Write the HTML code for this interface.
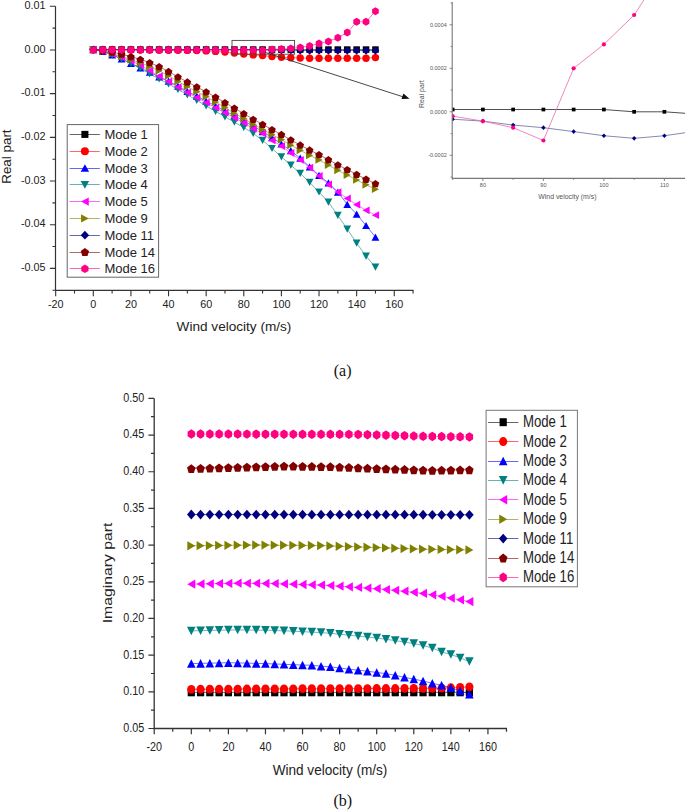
<!DOCTYPE html>
<html><head><meta charset="utf-8"><style>
html,body{margin:0;padding:0;background:#fff;}
body{width:685px;height:810px;overflow:hidden;}
svg{display:block;}
</style></head><body>
<svg width="685" height="810" viewBox="0 0 685 810">
<rect width="685" height="810" fill="#fff"/>
<g id="chartA">
<polyline fill="none" stroke="#000000" stroke-width="0.7" stroke-opacity="0.8" points="93.3,49.6 102.7,49.6 112.11,49.6 121.52,49.6 130.92,49.6 140.32,49.6 149.73,49.6 159.13,49.6 168.54,49.6 177.94,49.6 187.35,49.6 196.75,49.6 206.16,49.6 215.56,49.6 224.97,49.6 234.38,49.6 243.78,49.6 253.19,49.6 262.59,49.6 272,49.6 281.4,49.6 290.81,49.6 300.21,49.6 309.62,49.6 319.02,49.6 328.43,49.6 337.83,49.6 347.24,49.6 356.64,49.6 366.05,49.6 375.45,49.6"/>
<rect x="90.02" y="46.32" width="6.55" height="6.55" fill="#000000"/>
<rect x="99.43" y="46.32" width="6.55" height="6.55" fill="#000000"/>
<rect x="108.83" y="46.32" width="6.55" height="6.55" fill="#000000"/>
<rect x="118.24" y="46.32" width="6.55" height="6.55" fill="#000000"/>
<rect x="127.64" y="46.32" width="6.55" height="6.55" fill="#000000"/>
<rect x="137.05" y="46.32" width="6.55" height="6.55" fill="#000000"/>
<rect x="146.45" y="46.32" width="6.55" height="6.55" fill="#000000"/>
<rect x="155.86" y="46.32" width="6.55" height="6.55" fill="#000000"/>
<rect x="165.26" y="46.32" width="6.55" height="6.55" fill="#000000"/>
<rect x="174.67" y="46.32" width="6.55" height="6.55" fill="#000000"/>
<rect x="184.07" y="46.32" width="6.55" height="6.55" fill="#000000"/>
<rect x="193.48" y="46.32" width="6.55" height="6.55" fill="#000000"/>
<rect x="202.88" y="46.32" width="6.55" height="6.55" fill="#000000"/>
<rect x="212.29" y="46.32" width="6.55" height="6.55" fill="#000000"/>
<rect x="221.69" y="46.32" width="6.55" height="6.55" fill="#000000"/>
<rect x="231.1" y="46.32" width="6.55" height="6.55" fill="#000000"/>
<rect x="240.5" y="46.32" width="6.55" height="6.55" fill="#000000"/>
<rect x="249.91" y="46.32" width="6.55" height="6.55" fill="#000000"/>
<rect x="259.31" y="46.32" width="6.55" height="6.55" fill="#000000"/>
<rect x="268.72" y="46.32" width="6.55" height="6.55" fill="#000000"/>
<rect x="278.12" y="46.32" width="6.55" height="6.55" fill="#000000"/>
<rect x="287.53" y="46.32" width="6.55" height="6.55" fill="#000000"/>
<rect x="296.93" y="46.32" width="6.55" height="6.55" fill="#000000"/>
<rect x="306.34" y="46.32" width="6.55" height="6.55" fill="#000000"/>
<rect x="315.74" y="46.32" width="6.55" height="6.55" fill="#000000"/>
<rect x="325.15" y="46.32" width="6.55" height="6.55" fill="#000000"/>
<rect x="334.55" y="46.32" width="6.55" height="6.55" fill="#000000"/>
<rect x="343.96" y="46.32" width="6.55" height="6.55" fill="#000000"/>
<rect x="353.36" y="46.32" width="6.55" height="6.55" fill="#000000"/>
<rect x="362.77" y="46.32" width="6.55" height="6.55" fill="#000000"/>
<rect x="372.17" y="46.32" width="6.55" height="6.55" fill="#000000"/>
<polyline fill="none" stroke="#ff0000" stroke-width="0.7" stroke-opacity="0.8" points="93.3,49.6 102.7,49.68 112.11,49.76 121.52,49.84 130.92,49.92 140.32,50 149.73,50.08 159.13,50.16 168.54,50.24 177.94,50.32 187.35,50.4 196.75,50.6 206.16,50.9 215.56,51.4 224.97,52.1 234.38,53 243.78,54 253.19,54.9 262.59,55.6 272,56.6 281.4,57.3 290.81,57.7 300.21,58 309.62,58.2 319.02,58.2 328.43,58.2 337.83,58.2 347.24,58.2 356.64,58.2 366.05,58.2 375.45,57.6"/>
<ellipse cx="93.3" cy="49.6" rx="3.7" ry="3.7" fill="#ff0000"/>
<ellipse cx="102.7" cy="49.68" rx="3.7" ry="3.7" fill="#ff0000"/>
<ellipse cx="112.11" cy="49.76" rx="3.7" ry="3.7" fill="#ff0000"/>
<ellipse cx="121.52" cy="49.84" rx="3.7" ry="3.7" fill="#ff0000"/>
<ellipse cx="130.92" cy="49.92" rx="3.7" ry="3.7" fill="#ff0000"/>
<ellipse cx="140.32" cy="50" rx="3.7" ry="3.7" fill="#ff0000"/>
<ellipse cx="149.73" cy="50.08" rx="3.7" ry="3.7" fill="#ff0000"/>
<ellipse cx="159.13" cy="50.16" rx="3.7" ry="3.7" fill="#ff0000"/>
<ellipse cx="168.54" cy="50.24" rx="3.7" ry="3.7" fill="#ff0000"/>
<ellipse cx="177.94" cy="50.32" rx="3.7" ry="3.7" fill="#ff0000"/>
<ellipse cx="187.35" cy="50.4" rx="3.7" ry="3.7" fill="#ff0000"/>
<ellipse cx="196.75" cy="50.6" rx="3.7" ry="3.7" fill="#ff0000"/>
<ellipse cx="206.16" cy="50.9" rx="3.7" ry="3.7" fill="#ff0000"/>
<ellipse cx="215.56" cy="51.4" rx="3.7" ry="3.7" fill="#ff0000"/>
<ellipse cx="224.97" cy="52.1" rx="3.7" ry="3.7" fill="#ff0000"/>
<ellipse cx="234.38" cy="53" rx="3.7" ry="3.7" fill="#ff0000"/>
<ellipse cx="243.78" cy="54" rx="3.7" ry="3.7" fill="#ff0000"/>
<ellipse cx="253.19" cy="54.9" rx="3.7" ry="3.7" fill="#ff0000"/>
<ellipse cx="262.59" cy="55.6" rx="3.7" ry="3.7" fill="#ff0000"/>
<ellipse cx="272" cy="56.6" rx="3.7" ry="3.7" fill="#ff0000"/>
<ellipse cx="281.4" cy="57.3" rx="3.7" ry="3.7" fill="#ff0000"/>
<ellipse cx="290.81" cy="57.7" rx="3.7" ry="3.7" fill="#ff0000"/>
<ellipse cx="300.21" cy="58" rx="3.7" ry="3.7" fill="#ff0000"/>
<ellipse cx="309.62" cy="58.2" rx="3.7" ry="3.7" fill="#ff0000"/>
<ellipse cx="319.02" cy="58.2" rx="3.7" ry="3.7" fill="#ff0000"/>
<ellipse cx="328.43" cy="58.2" rx="3.7" ry="3.7" fill="#ff0000"/>
<ellipse cx="337.83" cy="58.2" rx="3.7" ry="3.7" fill="#ff0000"/>
<ellipse cx="347.24" cy="58.2" rx="3.7" ry="3.7" fill="#ff0000"/>
<ellipse cx="356.64" cy="58.2" rx="3.7" ry="3.7" fill="#ff0000"/>
<ellipse cx="366.05" cy="58.2" rx="3.7" ry="3.7" fill="#ff0000"/>
<ellipse cx="375.45" cy="57.6" rx="3.7" ry="3.7" fill="#ff0000"/>
<polyline fill="none" stroke="#0000ff" stroke-width="0.7" stroke-opacity="0.8" points="93.3,49.6 102.7,51.4 112.11,54.8 121.52,58.9 130.92,63.3 140.32,68 149.73,72.1 159.13,77 168.54,81.2 177.94,86.2 187.35,91.4 196.75,96.2 206.16,101.1 215.56,106 224.97,110.9 234.38,115.8 243.78,120.9 253.19,126 262.59,131.6 272,137.6 281.4,143.9 290.81,150.7 300.21,158.2 309.62,166.8 319.02,175.3 328.43,182.9 337.83,192.1 347.24,204.3 356.64,214.2 366.05,225.5 375.45,237.1"/>
<polygon points="93.3,46.01 97.2,53.19 89.4,53.19" fill="#0000ff"/>
<polygon points="102.7,47.81 106.61,54.99 98.8,54.99" fill="#0000ff"/>
<polygon points="112.11,51.21 116.01,58.39 108.21,58.39" fill="#0000ff"/>
<polygon points="121.52,55.31 125.42,62.49 117.61,62.49" fill="#0000ff"/>
<polygon points="130.92,59.71 134.82,66.89 127.02,66.89" fill="#0000ff"/>
<polygon points="140.32,64.41 144.22,71.59 136.42,71.59" fill="#0000ff"/>
<polygon points="149.73,68.51 153.63,75.69 145.83,75.69" fill="#0000ff"/>
<polygon points="159.13,73.41 163.03,80.59 155.23,80.59" fill="#0000ff"/>
<polygon points="168.54,77.61 172.44,84.79 164.64,84.79" fill="#0000ff"/>
<polygon points="177.94,82.61 181.84,89.79 174.04,89.79" fill="#0000ff"/>
<polygon points="187.35,87.81 191.25,94.99 183.45,94.99" fill="#0000ff"/>
<polygon points="196.75,92.61 200.66,99.79 192.85,99.79" fill="#0000ff"/>
<polygon points="206.16,97.51 210.06,104.69 202.26,104.69" fill="#0000ff"/>
<polygon points="215.56,102.41 219.47,109.59 211.66,109.59" fill="#0000ff"/>
<polygon points="224.97,107.31 228.87,114.49 221.07,114.49" fill="#0000ff"/>
<polygon points="234.38,112.21 238.28,119.39 230.47,119.39" fill="#0000ff"/>
<polygon points="243.78,117.31 247.68,124.49 239.88,124.49" fill="#0000ff"/>
<polygon points="253.19,122.41 257.08,129.59 249.28,129.59" fill="#0000ff"/>
<polygon points="262.59,128.01 266.49,135.19 258.69,135.19" fill="#0000ff"/>
<polygon points="272,134.01 275.89,141.19 268.1,141.19" fill="#0000ff"/>
<polygon points="281.4,140.31 285.3,147.49 277.5,147.49" fill="#0000ff"/>
<polygon points="290.81,147.11 294.7,154.29 286.91,154.29" fill="#0000ff"/>
<polygon points="300.21,154.61 304.11,161.79 296.31,161.79" fill="#0000ff"/>
<polygon points="309.62,163.21 313.51,170.39 305.72,170.39" fill="#0000ff"/>
<polygon points="319.02,171.71 322.92,178.89 315.12,178.89" fill="#0000ff"/>
<polygon points="328.43,179.31 332.32,186.49 324.53,186.49" fill="#0000ff"/>
<polygon points="337.83,188.51 341.73,195.69 333.93,195.69" fill="#0000ff"/>
<polygon points="347.24,200.71 351.13,207.89 343.34,207.89" fill="#0000ff"/>
<polygon points="356.64,210.61 360.54,217.79 352.74,217.79" fill="#0000ff"/>
<polygon points="366.05,221.91 369.94,229.09 362.15,229.09" fill="#0000ff"/>
<polygon points="375.45,233.51 379.35,240.69 371.55,240.69" fill="#0000ff"/>
<polyline fill="none" stroke="#008080" stroke-width="0.7" stroke-opacity="0.8" points="93.3,49.6 102.7,51.4 112.11,54.8 121.52,58.9 130.92,63.4 140.32,68.5 149.73,73.9 159.13,78.9 168.54,84 177.94,89.5 187.35,94.9 196.75,100.3 206.16,105.9 215.56,111.3 224.97,116.8 234.38,122.2 243.78,127.5 253.19,133.4 262.59,140.4 272,148.5 281.4,156.8 290.81,165.1 300.21,173.4 309.62,182.4 319.02,192 328.43,202.2 337.83,215.4 347.24,229.1 356.64,243.1 366.05,256.1 375.45,267.1"/>
<polygon points="93.3,53.19 97.2,46.01 89.4,46.01" fill="#008080"/>
<polygon points="102.7,54.99 106.61,47.81 98.8,47.81" fill="#008080"/>
<polygon points="112.11,58.39 116.01,51.21 108.21,51.21" fill="#008080"/>
<polygon points="121.52,62.49 125.42,55.31 117.61,55.31" fill="#008080"/>
<polygon points="130.92,66.99 134.82,59.81 127.02,59.81" fill="#008080"/>
<polygon points="140.32,72.09 144.22,64.91 136.42,64.91" fill="#008080"/>
<polygon points="149.73,77.49 153.63,70.31 145.83,70.31" fill="#008080"/>
<polygon points="159.13,82.49 163.03,75.31 155.23,75.31" fill="#008080"/>
<polygon points="168.54,87.59 172.44,80.41 164.64,80.41" fill="#008080"/>
<polygon points="177.94,93.09 181.84,85.91 174.04,85.91" fill="#008080"/>
<polygon points="187.35,98.49 191.25,91.31 183.45,91.31" fill="#008080"/>
<polygon points="196.75,103.89 200.66,96.71 192.85,96.71" fill="#008080"/>
<polygon points="206.16,109.49 210.06,102.31 202.26,102.31" fill="#008080"/>
<polygon points="215.56,114.89 219.47,107.71 211.66,107.71" fill="#008080"/>
<polygon points="224.97,120.39 228.87,113.21 221.07,113.21" fill="#008080"/>
<polygon points="234.38,125.79 238.28,118.61 230.47,118.61" fill="#008080"/>
<polygon points="243.78,131.09 247.68,123.91 239.88,123.91" fill="#008080"/>
<polygon points="253.19,136.99 257.08,129.81 249.28,129.81" fill="#008080"/>
<polygon points="262.59,143.99 266.49,136.81 258.69,136.81" fill="#008080"/>
<polygon points="272,152.09 275.89,144.91 268.1,144.91" fill="#008080"/>
<polygon points="281.4,160.39 285.3,153.21 277.5,153.21" fill="#008080"/>
<polygon points="290.81,168.69 294.7,161.51 286.91,161.51" fill="#008080"/>
<polygon points="300.21,176.99 304.11,169.81 296.31,169.81" fill="#008080"/>
<polygon points="309.62,185.99 313.51,178.81 305.72,178.81" fill="#008080"/>
<polygon points="319.02,195.59 322.92,188.41 315.12,188.41" fill="#008080"/>
<polygon points="328.43,205.79 332.32,198.61 324.53,198.61" fill="#008080"/>
<polygon points="337.83,218.99 341.73,211.81 333.93,211.81" fill="#008080"/>
<polygon points="347.24,232.69 351.13,225.51 343.34,225.51" fill="#008080"/>
<polygon points="356.64,246.69 360.54,239.51 352.74,239.51" fill="#008080"/>
<polygon points="366.05,259.69 369.94,252.51 362.15,252.51" fill="#008080"/>
<polygon points="375.45,270.69 379.35,263.51 371.55,263.51" fill="#008080"/>
<polyline fill="none" stroke="#ff00ff" stroke-width="0.7" stroke-opacity="0.8" points="93.3,49.6 102.7,51.1 112.11,54 121.52,57.4 130.92,60.8 140.32,65.2 149.73,70.6 159.13,76.2 168.54,81.7 177.94,87.2 187.35,92.6 196.75,97.6 206.16,102.6 215.56,107.7 224.97,112.7 234.38,117.7 243.78,122.8 253.19,128.7 262.59,133.4 272,140.4 281.4,146.1 290.81,153 300.21,159.9 309.62,167.6 319.02,176 328.43,184.5 337.83,192.1 347.24,198.4 356.64,204.7 366.05,210.3 375.45,215.2"/>
<polygon points="89.71,49.6 96.89,45.7 96.89,53.5" fill="#ff00ff"/>
<polygon points="99.12,51.1 106.29,47.2 106.29,55" fill="#ff00ff"/>
<polygon points="108.52,54 115.7,50.1 115.7,57.9" fill="#ff00ff"/>
<polygon points="117.93,57.4 125.1,53.5 125.1,61.3" fill="#ff00ff"/>
<polygon points="127.33,60.8 134.51,56.9 134.51,64.7" fill="#ff00ff"/>
<polygon points="136.74,65.2 143.91,61.3 143.91,69.1" fill="#ff00ff"/>
<polygon points="146.14,70.6 153.32,66.7 153.32,74.5" fill="#ff00ff"/>
<polygon points="155.55,76.2 162.72,72.3 162.72,80.1" fill="#ff00ff"/>
<polygon points="164.95,81.7 172.13,77.8 172.13,85.6" fill="#ff00ff"/>
<polygon points="174.36,87.2 181.53,83.3 181.53,91.1" fill="#ff00ff"/>
<polygon points="183.76,92.6 190.94,88.7 190.94,96.5" fill="#ff00ff"/>
<polygon points="193.17,97.6 200.34,93.7 200.34,101.5" fill="#ff00ff"/>
<polygon points="202.57,102.6 209.75,98.7 209.75,106.5" fill="#ff00ff"/>
<polygon points="211.98,107.7 219.15,103.8 219.15,111.6" fill="#ff00ff"/>
<polygon points="221.38,112.7 228.56,108.8 228.56,116.6" fill="#ff00ff"/>
<polygon points="230.79,117.7 237.96,113.8 237.96,121.6" fill="#ff00ff"/>
<polygon points="240.19,122.8 247.37,118.9 247.37,126.7" fill="#ff00ff"/>
<polygon points="249.6,128.7 256.77,124.8 256.77,132.6" fill="#ff00ff"/>
<polygon points="259,133.4 266.18,129.5 266.18,137.3" fill="#ff00ff"/>
<polygon points="268.41,140.4 275.58,136.5 275.58,144.3" fill="#ff00ff"/>
<polygon points="277.81,146.1 284.99,142.2 284.99,150" fill="#ff00ff"/>
<polygon points="287.22,153 294.39,149.1 294.39,156.9" fill="#ff00ff"/>
<polygon points="296.62,159.9 303.8,156 303.8,163.8" fill="#ff00ff"/>
<polygon points="306.03,167.6 313.2,163.7 313.2,171.5" fill="#ff00ff"/>
<polygon points="315.43,176 322.61,172.1 322.61,179.9" fill="#ff00ff"/>
<polygon points="324.84,184.5 332.01,180.6 332.01,188.4" fill="#ff00ff"/>
<polygon points="334.24,192.1 341.42,188.2 341.42,196" fill="#ff00ff"/>
<polygon points="343.65,198.4 350.82,194.5 350.82,202.3" fill="#ff00ff"/>
<polygon points="353.05,204.7 360.23,200.8 360.23,208.6" fill="#ff00ff"/>
<polygon points="362.46,210.3 369.63,206.4 369.63,214.2" fill="#ff00ff"/>
<polygon points="371.86,215.2 379.04,211.3 379.04,219.1" fill="#ff00ff"/>
<polyline fill="none" stroke="#808000" stroke-width="0.7" stroke-opacity="0.8" points="93.3,49.6 102.7,51.35 112.11,53.6 121.52,56.35 130.92,59.6 140.32,62.9 149.73,66.6 159.13,70.78 168.54,75.85 177.94,81.43 187.35,86.7 196.75,91.65 206.16,96.7 215.56,102.05 224.97,107.5 234.38,113.15 243.78,118.6 253.19,124.35 262.59,129.4 272,134.75 281.4,139.7 290.81,145.14 300.21,150.28 309.62,155.32 319.02,159.96 328.43,165.1 337.83,170.34 347.24,175.08 356.64,179.92 366.05,184.76 375.45,189.2"/>
<polygon points="96.89,49.6 89.71,45.7 89.71,53.5" fill="#808000"/>
<polygon points="106.29,51.35 99.12,47.45 99.12,55.25" fill="#808000"/>
<polygon points="115.7,53.6 108.52,49.7 108.52,57.5" fill="#808000"/>
<polygon points="125.1,56.35 117.93,52.45 117.93,60.25" fill="#808000"/>
<polygon points="134.51,59.6 127.33,55.7 127.33,63.5" fill="#808000"/>
<polygon points="143.91,62.9 136.74,59 136.74,66.8" fill="#808000"/>
<polygon points="153.32,66.6 146.14,62.7 146.14,70.5" fill="#808000"/>
<polygon points="162.72,70.78 155.55,66.88 155.55,74.68" fill="#808000"/>
<polygon points="172.13,75.85 164.95,71.95 164.95,79.75" fill="#808000"/>
<polygon points="181.53,81.43 174.36,77.53 174.36,85.33" fill="#808000"/>
<polygon points="190.94,86.7 183.76,82.8 183.76,90.6" fill="#808000"/>
<polygon points="200.34,91.65 193.17,87.75 193.17,95.55" fill="#808000"/>
<polygon points="209.75,96.7 202.57,92.8 202.57,100.6" fill="#808000"/>
<polygon points="219.15,102.05 211.98,98.15 211.98,105.95" fill="#808000"/>
<polygon points="228.56,107.5 221.38,103.6 221.38,111.4" fill="#808000"/>
<polygon points="237.96,113.15 230.79,109.25 230.79,117.05" fill="#808000"/>
<polygon points="247.37,118.6 240.19,114.7 240.19,122.5" fill="#808000"/>
<polygon points="256.77,124.35 249.6,120.45 249.6,128.25" fill="#808000"/>
<polygon points="266.18,129.4 259,125.5 259,133.3" fill="#808000"/>
<polygon points="275.58,134.75 268.41,130.85 268.41,138.65" fill="#808000"/>
<polygon points="284.99,139.7 277.81,135.8 277.81,143.6" fill="#808000"/>
<polygon points="294.39,145.14 287.22,141.24 287.22,149.04" fill="#808000"/>
<polygon points="303.8,150.28 296.62,146.38 296.62,154.18" fill="#808000"/>
<polygon points="313.2,155.32 306.03,151.42 306.03,159.22" fill="#808000"/>
<polygon points="322.61,159.96 315.43,156.06 315.43,163.86" fill="#808000"/>
<polygon points="332.01,165.1 324.84,161.2 324.84,169" fill="#808000"/>
<polygon points="341.42,170.34 334.24,166.44 334.24,174.24" fill="#808000"/>
<polygon points="350.82,175.08 343.65,171.18 343.65,178.98" fill="#808000"/>
<polygon points="360.23,179.92 353.05,176.02 353.05,183.82" fill="#808000"/>
<polygon points="369.63,184.76 362.46,180.86 362.46,188.66" fill="#808000"/>
<polygon points="379.04,189.2 371.86,185.3 371.86,193.1" fill="#808000"/>
<polyline fill="none" stroke="#000080" stroke-width="0.7" stroke-opacity="0.8" points="93.3,49.6 102.7,49.61 112.11,49.62 121.52,49.63 130.92,49.64 140.32,49.65 149.73,49.66 159.13,49.67 168.54,49.68 177.94,49.69 187.35,49.7 196.75,49.71 206.16,49.72 215.56,49.73 224.97,49.74 234.38,49.75 243.78,49.81 253.19,49.86 262.59,49.92 272,50.01 281.4,50.1 290.81,50.15 300.21,50.4 309.62,50.6 319.02,50.6 328.43,50.6 337.83,50.6 347.24,50.6 356.64,50.6 366.05,50.6 375.45,50.6"/>
<polygon points="93.3,45.51 97.2,49.6 93.3,53.7 89.4,49.6" fill="#000080"/>
<polygon points="102.7,45.52 106.61,49.61 102.7,53.7 98.8,49.61" fill="#000080"/>
<polygon points="112.11,45.53 116.01,49.62 112.11,53.72 108.21,49.62" fill="#000080"/>
<polygon points="121.52,45.54 125.42,49.63 121.52,53.73 117.61,49.63" fill="#000080"/>
<polygon points="130.92,45.55 134.82,49.64 130.92,53.73 127.02,49.64" fill="#000080"/>
<polygon points="140.32,45.55 144.22,49.65 140.32,53.74 136.42,49.65" fill="#000080"/>
<polygon points="149.73,45.57 153.63,49.66 149.73,53.76 145.83,49.66" fill="#000080"/>
<polygon points="159.13,45.58 163.03,49.67 159.13,53.77 155.23,49.67" fill="#000080"/>
<polygon points="168.54,45.59 172.44,49.68 168.54,53.77 164.64,49.68" fill="#000080"/>
<polygon points="177.94,45.6 181.84,49.69 177.94,53.79 174.04,49.69" fill="#000080"/>
<polygon points="187.35,45.61 191.25,49.7 187.35,53.8 183.45,49.7" fill="#000080"/>
<polygon points="196.75,45.62 200.66,49.71 196.75,53.8 192.85,49.71" fill="#000080"/>
<polygon points="206.16,45.62 210.06,49.72 206.16,53.81 202.26,49.72" fill="#000080"/>
<polygon points="215.56,45.64 219.47,49.73 215.56,53.83 211.66,49.73" fill="#000080"/>
<polygon points="224.97,45.65 228.87,49.74 224.97,53.84 221.07,49.74" fill="#000080"/>
<polygon points="234.38,45.66 238.28,49.75 234.38,53.84 230.47,49.75" fill="#000080"/>
<polygon points="243.78,45.71 247.68,49.81 243.78,53.9 239.88,49.81" fill="#000080"/>
<polygon points="253.19,45.77 257.08,49.86 253.19,53.96 249.28,49.86" fill="#000080"/>
<polygon points="262.59,45.83 266.49,49.92 262.59,54.02 258.69,49.92" fill="#000080"/>
<polygon points="272,45.91 275.89,50.01 272,54.1 268.1,50.01" fill="#000080"/>
<polygon points="281.4,46.01 285.3,50.1 281.4,54.2 277.5,50.1" fill="#000080"/>
<polygon points="290.81,46.05 294.7,50.15 290.81,54.24 286.91,50.15" fill="#000080"/>
<polygon points="300.21,46.3 304.11,50.4 300.21,54.49 296.31,50.4" fill="#000080"/>
<polygon points="309.62,46.51 313.51,50.6 309.62,54.7 305.72,50.6" fill="#000080"/>
<polygon points="319.02,46.51 322.92,50.6 319.02,54.7 315.12,50.6" fill="#000080"/>
<polygon points="328.43,46.51 332.32,50.6 328.43,54.7 324.53,50.6" fill="#000080"/>
<polygon points="337.83,46.51 341.73,50.6 337.83,54.7 333.93,50.6" fill="#000080"/>
<polygon points="347.24,46.51 351.13,50.6 347.24,54.7 343.34,50.6" fill="#000080"/>
<polygon points="356.64,46.51 360.54,50.6 356.64,54.7 352.74,50.6" fill="#000080"/>
<polygon points="366.05,46.51 369.94,50.6 366.05,54.7 362.15,50.6" fill="#000080"/>
<polygon points="375.45,46.51 379.35,50.6 375.45,54.7 371.55,50.6" fill="#000080"/>
<polyline fill="none" stroke="#800000" stroke-width="0.7" stroke-opacity="0.8" points="93.3,49.6 102.7,50.6 112.11,52.1 121.52,54.1 130.92,56.6 140.32,59.4 149.73,62.6 159.13,66.6 168.54,71.5 177.94,76.9 187.35,82 196.75,86.9 206.16,91.9 215.56,97.2 224.97,102.6 234.38,108.2 243.78,113.6 253.19,119.3 262.59,124.3 272,129.6 281.4,134.5 290.81,139.9 300.21,145 309.62,150 319.02,154.6 328.43,159.7 337.83,164.9 347.24,169.6 356.64,174.4 366.05,179.2 375.45,183.6"/>
<polygon points="93.3,45.95 97.16,48.75 95.68,53.29 90.92,53.29 89.44,48.75" fill="#800000"/>
<polygon points="102.7,46.95 106.56,49.75 105.09,54.29 100.32,54.29 98.85,49.75" fill="#800000"/>
<polygon points="112.11,48.45 115.97,51.25 114.49,55.79 109.73,55.79 108.25,51.25" fill="#800000"/>
<polygon points="121.52,50.45 125.37,53.25 123.9,57.79 119.13,57.79 117.66,53.25" fill="#800000"/>
<polygon points="130.92,52.95 134.78,55.75 133.3,60.29 128.54,60.29 127.06,55.75" fill="#800000"/>
<polygon points="140.32,55.75 144.18,58.55 142.71,63.09 137.94,63.09 136.47,58.55" fill="#800000"/>
<polygon points="149.73,58.95 153.59,61.75 152.11,66.29 147.35,66.29 145.87,61.75" fill="#800000"/>
<polygon points="159.13,62.95 162.99,65.75 161.52,70.29 156.75,70.29 155.28,65.75" fill="#800000"/>
<polygon points="168.54,67.85 172.4,70.65 170.92,75.19 166.16,75.19 164.68,70.65" fill="#800000"/>
<polygon points="177.94,73.25 181.8,76.05 180.33,80.59 175.56,80.59 174.09,76.05" fill="#800000"/>
<polygon points="187.35,78.35 191.21,81.15 189.73,85.69 184.97,85.69 183.49,81.15" fill="#800000"/>
<polygon points="196.75,83.25 200.61,86.05 199.14,90.59 194.37,90.59 192.9,86.05" fill="#800000"/>
<polygon points="206.16,88.25 210.02,91.05 208.54,95.59 203.78,95.59 202.3,91.05" fill="#800000"/>
<polygon points="215.56,93.55 219.42,96.35 217.95,100.89 213.18,100.89 211.71,96.35" fill="#800000"/>
<polygon points="224.97,98.95 228.83,101.75 227.35,106.29 222.59,106.29 221.11,101.75" fill="#800000"/>
<polygon points="234.38,104.55 238.23,107.35 236.76,111.89 231.99,111.89 230.52,107.35" fill="#800000"/>
<polygon points="243.78,109.95 247.64,112.75 246.16,117.29 241.4,117.29 239.92,112.75" fill="#800000"/>
<polygon points="253.19,115.65 257.04,118.45 255.57,122.99 250.8,122.99 249.33,118.45" fill="#800000"/>
<polygon points="262.59,120.65 266.45,123.45 264.97,127.99 260.21,127.99 258.73,123.45" fill="#800000"/>
<polygon points="272,125.95 275.85,128.75 274.38,133.29 269.61,133.29 268.14,128.75" fill="#800000"/>
<polygon points="281.4,130.85 285.26,133.65 283.78,138.19 279.02,138.19 277.54,133.65" fill="#800000"/>
<polygon points="290.81,136.25 294.66,139.05 293.19,143.59 288.42,143.59 286.95,139.05" fill="#800000"/>
<polygon points="300.21,141.35 304.07,144.15 302.59,148.69 297.83,148.69 296.35,144.15" fill="#800000"/>
<polygon points="309.62,146.35 313.47,149.15 312,153.69 307.23,153.69 305.76,149.15" fill="#800000"/>
<polygon points="319.02,150.95 322.88,153.75 321.4,158.29 316.64,158.29 315.16,153.75" fill="#800000"/>
<polygon points="328.43,156.05 332.28,158.85 330.81,163.39 326.04,163.39 324.57,158.85" fill="#800000"/>
<polygon points="337.83,161.25 341.69,164.05 340.21,168.59 335.45,168.59 333.97,164.05" fill="#800000"/>
<polygon points="347.24,165.95 351.09,168.75 349.62,173.29 344.85,173.29 343.38,168.75" fill="#800000"/>
<polygon points="356.64,170.75 360.5,173.55 359.02,178.09 354.26,178.09 352.78,173.55" fill="#800000"/>
<polygon points="366.05,175.55 369.9,178.35 368.43,182.89 363.66,182.89 362.19,178.35" fill="#800000"/>
<polygon points="375.45,179.95 379.31,182.75 377.83,187.29 373.07,187.29 371.59,182.75" fill="#800000"/>
<polyline fill="none" stroke="#ff0080" stroke-width="0.7" stroke-opacity="0.8" points="93.3,49.9 102.7,49.9 112.11,49.91 121.52,49.91 130.92,49.91 140.32,49.91 149.73,49.92 159.13,49.92 168.54,49.92 177.94,49.93 187.35,49.93 196.75,49.93 206.16,49.94 215.56,49.94 224.97,49.94 234.38,49.94 243.78,49.95 253.19,49.95 262.59,50.2 272,49.4 281.4,49 290.81,48.5 300.21,47.4 309.62,45.9 319.02,43.6 328.43,41.4 337.83,37.8 347.24,32.5 356.64,21.8 366.05,21.8 375.45,11.2"/>
<polygon points="93.3,45.92 96.64,47.91 96.64,51.89 93.3,53.88 89.96,51.89 89.96,47.91" fill="#ff0080"/>
<polygon points="102.7,45.92 106.05,47.91 106.05,51.89 102.7,53.88 99.36,51.89 99.36,47.91" fill="#ff0080"/>
<polygon points="112.11,45.93 115.45,47.92 115.45,51.89 112.11,53.88 108.77,51.89 108.77,47.92" fill="#ff0080"/>
<polygon points="121.52,45.93 124.86,47.92 124.86,51.9 121.52,53.89 118.17,51.9 118.17,47.92" fill="#ff0080"/>
<polygon points="130.92,45.93 134.26,47.92 134.26,51.9 130.92,53.89 127.58,51.9 127.58,47.92" fill="#ff0080"/>
<polygon points="140.32,45.94 143.67,47.93 143.67,51.9 140.32,53.89 136.98,51.9 136.98,47.93" fill="#ff0080"/>
<polygon points="149.73,45.94 153.07,47.93 153.07,51.91 149.73,53.9 146.39,51.91 146.39,47.93" fill="#ff0080"/>
<polygon points="159.13,45.94 162.48,47.93 162.48,51.91 159.13,53.9 155.79,51.91 155.79,47.93" fill="#ff0080"/>
<polygon points="168.54,45.95 171.88,47.93 171.88,51.91 168.54,53.9 165.2,51.91 165.2,47.93" fill="#ff0080"/>
<polygon points="177.94,45.95 181.29,47.94 181.29,51.92 177.94,53.9 174.6,51.92 174.6,47.94" fill="#ff0080"/>
<polygon points="187.35,45.95 190.69,47.94 190.69,51.92 187.35,53.91 184.01,51.92 184.01,47.94" fill="#ff0080"/>
<polygon points="196.75,45.95 200.1,47.94 200.1,51.92 196.75,53.91 193.41,51.92 193.41,47.94" fill="#ff0080"/>
<polygon points="206.16,45.96 209.5,47.95 209.5,51.92 206.16,53.91 202.82,51.92 202.82,47.95" fill="#ff0080"/>
<polygon points="215.56,45.96 218.91,47.95 218.91,51.93 215.56,53.92 212.22,51.93 212.22,47.95" fill="#ff0080"/>
<polygon points="224.97,45.96 228.31,47.95 228.31,51.93 224.97,53.92 221.63,51.93 221.63,47.95" fill="#ff0080"/>
<polygon points="234.38,45.97 237.72,47.96 237.72,51.93 234.38,53.92 231.03,51.93 231.03,47.96" fill="#ff0080"/>
<polygon points="243.78,45.97 247.12,47.96 247.12,51.94 243.78,53.93 240.44,51.94 240.44,47.96" fill="#ff0080"/>
<polygon points="253.19,45.97 256.53,47.96 256.53,51.94 253.19,53.93 249.84,51.94 249.84,47.96" fill="#ff0080"/>
<polygon points="262.59,46.22 265.93,48.21 265.93,52.19 262.59,54.18 259.25,52.19 259.25,48.21" fill="#ff0080"/>
<polygon points="272,45.42 275.34,47.41 275.34,51.39 272,53.38 268.65,51.39 268.65,47.41" fill="#ff0080"/>
<polygon points="281.4,45.02 284.74,47.01 284.74,50.99 281.4,52.98 278.06,50.99 278.06,47.01" fill="#ff0080"/>
<polygon points="290.81,44.52 294.15,46.51 294.15,50.49 290.81,52.48 287.46,50.49 287.46,46.51" fill="#ff0080"/>
<polygon points="300.21,43.42 303.55,45.41 303.55,49.39 300.21,51.38 296.87,49.39 296.87,45.41" fill="#ff0080"/>
<polygon points="309.62,41.92 312.96,43.91 312.96,47.89 309.62,49.88 306.27,47.89 306.27,43.91" fill="#ff0080"/>
<polygon points="319.02,39.62 322.36,41.61 322.36,45.59 319.02,47.58 315.68,45.59 315.68,41.61" fill="#ff0080"/>
<polygon points="328.43,37.42 331.77,39.41 331.77,43.39 328.43,45.38 325.08,43.39 325.08,39.41" fill="#ff0080"/>
<polygon points="337.83,33.82 341.17,35.81 341.17,39.79 337.83,41.78 334.49,39.79 334.49,35.81" fill="#ff0080"/>
<polygon points="347.24,28.52 350.58,30.51 350.58,34.49 347.24,36.48 343.89,34.49 343.89,30.51" fill="#ff0080"/>
<polygon points="356.64,17.82 359.98,19.81 359.98,23.79 356.64,25.78 353.3,23.79 353.3,19.81" fill="#ff0080"/>
<polygon points="366.05,17.82 369.39,19.81 369.39,23.79 366.05,25.78 362.7,23.79 362.7,19.81" fill="#ff0080"/>
<polygon points="375.45,7.22 378.79,9.21 378.79,13.19 375.45,15.18 372.11,13.19 372.11,9.21" fill="#ff0080"/>
<path d="M55.5 6.3 V290.4 H413.6" fill="none" stroke="#333333" stroke-width="1.2"/>
<path d="M49.9 6.3H55.5M52.5 28.14H55.5M49.9 49.98H55.5M52.5 71.82H55.5M49.9 93.66H55.5M52.5 115.5H55.5M49.9 137.34H55.5M52.5 159.18H55.5M49.9 181.02H55.5M52.5 202.86H55.5M49.9 224.7H55.5M52.5 246.54H55.5M49.9 268.38H55.5M52.5 290.22H55.5M55.68 290.4V296.2M74.49 290.4V293.4M93.3 290.4V296.2M112.11 290.4V293.4M130.92 290.4V296.2M149.73 290.4V293.4M168.54 290.4V296.2M187.35 290.4V293.4M206.16 290.4V296.2M224.97 290.4V293.4M243.78 290.4V296.2M262.59 290.4V293.4M281.4 290.4V296.2M300.21 290.4V293.4M319.02 290.4V296.2M337.83 290.4V293.4M356.64 290.4V296.2M375.45 290.4V293.4M394.26 290.4V296.2M413.07 290.4V293.4" stroke="#333333" stroke-width="1.1"/>
<g font-family="Liberation Sans" font-size="10.8" fill="#222">
<text x="45.6" y="8.9" text-anchor="end">0.01</text>
<text x="45.6" y="52.58" text-anchor="end">0.00</text>
<text x="45.6" y="96.26" text-anchor="end">-0.01</text>
<text x="45.6" y="139.94" text-anchor="end">-0.02</text>
<text x="45.6" y="183.62" text-anchor="end">-0.03</text>
<text x="45.6" y="227.3" text-anchor="end">-0.04</text>
<text x="45.6" y="270.98" text-anchor="end">-0.05</text>
<text x="55.68" y="308.3" text-anchor="middle">-20</text>
<text x="93.3" y="308.3" text-anchor="middle">0</text>
<text x="130.92" y="308.3" text-anchor="middle">20</text>
<text x="168.54" y="308.3" text-anchor="middle">40</text>
<text x="206.16" y="308.3" text-anchor="middle">60</text>
<text x="243.78" y="308.3" text-anchor="middle">80</text>
<text x="281.4" y="308.3" text-anchor="middle">100</text>
<text x="319.02" y="308.3" text-anchor="middle">120</text>
<text x="356.64" y="308.3" text-anchor="middle">140</text>
<text x="394.26" y="308.3" text-anchor="middle">160</text>
</g>
<text x="234" y="330.6" text-anchor="middle" font-family="Liberation Sans" font-size="13.6" fill="#222">Wind velocity (m/s)</text>
<text transform="translate(11.1 156.6) rotate(-90)" text-anchor="middle" font-family="Liberation Sans" font-size="13.4" fill="#222">Real part</text>
<rect x="232" y="40.4" width="62.6" height="13.8" fill="none" stroke="#444" stroke-width="0.9"/>
<line x1="265" y1="52.3" x2="403" y2="96.8" stroke="#333" stroke-width="0.9"/>
<polygon points="409.5,98.7 401.5,99.1 403.4,93.5" fill="#111"/>
<rect x="67.2" y="124.6" width="91.4" height="152.6" fill="#fff" stroke="#666" stroke-width="1"/>
<line x1="69.6" y1="134.5" x2="99.8" y2="134.5" stroke="#000000" stroke-width="1" stroke-opacity="0.6"/>
<rect x="81.37" y="130.87" width="7.06" height="7.06" fill="#000000"/>
<text x="104.4" y="139" font-family="Liberation Sans" font-size="13" fill="#222">Mode 1</text>
<line x1="69.6" y1="151.5" x2="99.8" y2="151.5" stroke="#ff0000" stroke-width="1" stroke-opacity="0.6"/>
<ellipse cx="84.9" cy="151.2" rx="3.99" ry="3.99" fill="#ff0000"/>
<text x="104.4" y="155.8" font-family="Liberation Sans" font-size="13" fill="#222">Mode 2</text>
<line x1="69.6" y1="168.5" x2="99.8" y2="168.5" stroke="#0000ff" stroke-width="1" stroke-opacity="0.6"/>
<polygon points="84.9,164.14 89.1,171.86 80.7,171.86" fill="#0000ff"/>
<text x="104.4" y="172.6" font-family="Liberation Sans" font-size="13" fill="#222">Mode 3</text>
<line x1="69.6" y1="184.5" x2="99.8" y2="184.5" stroke="#008080" stroke-width="1" stroke-opacity="0.6"/>
<polygon points="84.9,188.66 89.1,180.94 80.7,180.94" fill="#008080"/>
<text x="104.4" y="189.4" font-family="Liberation Sans" font-size="13" fill="#222">Mode 4</text>
<line x1="69.6" y1="201.5" x2="99.8" y2="201.5" stroke="#ff00ff" stroke-width="1" stroke-opacity="0.6"/>
<polygon points="81.04,201.6 88.76,197.4 88.76,205.8" fill="#ff00ff"/>
<text x="104.4" y="206.2" font-family="Liberation Sans" font-size="13" fill="#222">Mode 5</text>
<line x1="69.6" y1="218.5" x2="99.8" y2="218.5" stroke="#808000" stroke-width="1" stroke-opacity="0.6"/>
<polygon points="88.76,218.4 81.04,214.2 81.04,222.6" fill="#808000"/>
<text x="104.4" y="223" font-family="Liberation Sans" font-size="13" fill="#222">Mode 9</text>
<line x1="69.6" y1="235.5" x2="99.8" y2="235.5" stroke="#000080" stroke-width="1" stroke-opacity="0.6"/>
<polygon points="84.9,230.79 89.1,235.2 84.9,239.61 80.7,235.2" fill="#000080"/>
<text x="104.4" y="239.8" font-family="Liberation Sans" font-size="13" fill="#222">Mode 11</text>
<line x1="69.6" y1="252.5" x2="99.8" y2="252.5" stroke="#800000" stroke-width="1" stroke-opacity="0.6"/>
<polygon points="84.9,248.07 89.05,251.09 87.47,255.97 82.33,255.97 80.75,251.09" fill="#800000"/>
<text x="104.4" y="256.6" font-family="Liberation Sans" font-size="13" fill="#222">Mode 14</text>
<line x1="69.6" y1="268.5" x2="99.8" y2="268.5" stroke="#ff0080" stroke-width="1" stroke-opacity="0.6"/>
<polygon points="84.9,264.52 88.5,266.66 88.5,270.94 84.9,273.08 81.3,270.94 81.3,266.66" fill="#ff0080"/>
<text x="104.4" y="273.4" font-family="Liberation Sans" font-size="13" fill="#222">Mode 16</text>
</g>
<g id="inset">
<defs><clipPath id="ic"><rect x="452.2" y="0" width="232.8" height="178.4"/></clipPath></defs>
<g clip-path="url(#ic)">
<polyline fill="none" stroke="#222" stroke-width="0.8" points="452.65,109.52 482.9,109.52 513.15,109.52 543.4,109.52 573.65,109.52 603.9,109.52 634.15,111.8 664.4,111.8 694.65,113.97"/>
<rect x="450.8" y="107.67" width="3.7" height="3.7" fill="#000"/>
<rect x="481.05" y="107.67" width="3.7" height="3.7" fill="#000"/>
<rect x="511.3" y="107.67" width="3.7" height="3.7" fill="#000"/>
<rect x="541.55" y="107.67" width="3.7" height="3.7" fill="#000"/>
<rect x="571.8" y="107.67" width="3.7" height="3.7" fill="#000"/>
<rect x="602.05" y="107.67" width="3.7" height="3.7" fill="#000"/>
<rect x="632.3" y="109.95" width="3.7" height="3.7" fill="#000"/>
<rect x="662.55" y="109.95" width="3.7" height="3.7" fill="#000"/>
<rect x="692.8" y="112.13" width="3.7" height="3.7" fill="#000"/>
<polyline fill="none" stroke="#6a6a9a" stroke-width="0.8" points="452.65,119.19 482.9,121.15 513.15,125.07 543.4,127.68 573.65,131.59 603.9,135.72 634.15,138.34 664.4,135.72 694.65,131.38"/>
<polygon points="452.65,116.88 454.85,119.19 452.65,121.5 450.45,119.19" fill="#000080"/>
<polygon points="482.9,118.84 485.1,121.15 482.9,123.46 480.7,121.15" fill="#000080"/>
<polygon points="513.15,122.76 515.35,125.07 513.15,127.38 510.95,125.07" fill="#000080"/>
<polygon points="543.4,125.37 545.6,127.68 543.4,129.99 541.2,127.68" fill="#000080"/>
<polygon points="573.65,129.28 575.85,131.59 573.65,133.9 571.45,131.59" fill="#000080"/>
<polygon points="603.9,133.41 606.1,135.72 603.9,138.03 601.7,135.72" fill="#000080"/>
<polygon points="634.15,136.03 636.35,138.34 634.15,140.65 631.95,138.34" fill="#000080"/>
<polygon points="664.4,133.41 666.6,135.72 664.4,138.03 662.2,135.72" fill="#000080"/>
<polygon points="694.65,129.06 696.85,131.38 694.65,133.69 692.45,131.38" fill="#000080"/>
<polyline fill="none" stroke="#e868b0" stroke-width="0.8" points="452.65,116.15 482.9,121.15 513.15,127.68 543.4,140.51 573.65,68.3 603.9,44.38 634.15,15.01 664.4,-31.75 694.65,-105.7"/>
<ellipse cx="452.65" cy="116.15" rx="2.09" ry="2.09" fill="#ff0080"/>
<ellipse cx="482.9" cy="121.15" rx="2.09" ry="2.09" fill="#ff0080"/>
<ellipse cx="513.15" cy="127.68" rx="2.09" ry="2.09" fill="#ff0080"/>
<ellipse cx="543.4" cy="140.51" rx="2.09" ry="2.09" fill="#ff0080"/>
<ellipse cx="573.65" cy="68.3" rx="2.09" ry="2.09" fill="#ff0080"/>
<ellipse cx="603.9" cy="44.38" rx="2.09" ry="2.09" fill="#ff0080"/>
<ellipse cx="634.15" cy="15.01" rx="2.09" ry="2.09" fill="#ff0080"/>
<ellipse cx="664.4" cy="-31.75" rx="2.09" ry="2.09" fill="#ff0080"/>
<ellipse cx="694.65" cy="-105.7" rx="2.09" ry="2.09" fill="#ff0080"/>
</g>
<path d="M452.2 2V178.4H685" fill="none" stroke="#777" stroke-width="1.1"/>
<path d="M450.7 177.05H452.2M449.6 155.3H452.2M450.7 133.55H452.2M449.6 111.8H452.2M450.7 90.05H452.2M449.6 68.3H452.2M450.7 46.55H452.2M449.6 24.8H452.2M450.7 3.05H452.2M452.65 178.4V179.9M482.9 178.4V181M513.15 178.4V179.9M543.4 178.4V181M573.65 178.4V179.9M603.9 178.4V181M634.15 178.4V179.9M664.4 178.4V181" stroke="#777" stroke-width="0.9"/>
<g font-family="Liberation Sans" font-size="5.5" fill="#555">
<text x="446.8" y="26.8" text-anchor="end">0.0004</text>
<text x="446.8" y="70.3" text-anchor="end">0.0002</text>
<text x="446.8" y="113.8" text-anchor="end">0.0000</text>
<text x="446.8" y="157.3" text-anchor="end">-0.0002</text>
<text x="482.9" y="187.3" text-anchor="middle">80</text>
<text x="543.4" y="187.3" text-anchor="middle">90</text>
<text x="603.9" y="187.3" text-anchor="middle">100</text>
<text x="664.4" y="187.3" text-anchor="middle">110</text>
</g>
<text x="567.4" y="199" text-anchor="middle" font-family="Liberation Sans" font-size="6.9" fill="#555">Wind velocity (m/s)</text>
<text transform="translate(424 94) rotate(-90)" text-anchor="middle" font-family="Liberation Sans" font-size="6.9" fill="#555">Real part</text>
</g>
<text x="342.6" y="375.9" text-anchor="middle" font-family="Liberation Serif" font-size="16" fill="#111">(a)</text>
<g id="chartB">
<polyline fill="none" stroke="#000000" stroke-width="0.7" stroke-opacity="0.8" points="191.3,692.4 200.57,692.4 209.84,692.4 219.11,692.4 228.38,692.4 237.65,692.4 246.92,692.4 256.19,692.4 265.46,692.4 274.73,692.4 284,692.4 293.27,692.4 302.54,692.4 311.81,692.4 321.08,692.4 330.35,692.4 339.62,692.4 348.89,692.4 358.16,692.4 367.43,692.4 376.7,692.4 385.97,692.4 395.24,692.4 404.51,692.4 413.78,692.4 423.05,692.4 432.32,692.4 441.59,692.4 450.86,692.4 460.13,692.4 469.4,692.4"/>
<rect x="187.69" y="688.5" width="7.22" height="7.8" fill="#000000"/>
<rect x="196.96" y="688.5" width="7.22" height="7.8" fill="#000000"/>
<rect x="206.23" y="688.5" width="7.22" height="7.8" fill="#000000"/>
<rect x="215.5" y="688.5" width="7.22" height="7.8" fill="#000000"/>
<rect x="224.77" y="688.5" width="7.22" height="7.8" fill="#000000"/>
<rect x="234.04" y="688.5" width="7.22" height="7.8" fill="#000000"/>
<rect x="243.31" y="688.5" width="7.22" height="7.8" fill="#000000"/>
<rect x="252.58" y="688.5" width="7.22" height="7.8" fill="#000000"/>
<rect x="261.85" y="688.5" width="7.22" height="7.8" fill="#000000"/>
<rect x="271.12" y="688.5" width="7.22" height="7.8" fill="#000000"/>
<rect x="280.39" y="688.5" width="7.22" height="7.8" fill="#000000"/>
<rect x="289.66" y="688.5" width="7.22" height="7.8" fill="#000000"/>
<rect x="298.93" y="688.5" width="7.22" height="7.8" fill="#000000"/>
<rect x="308.2" y="688.5" width="7.22" height="7.8" fill="#000000"/>
<rect x="317.47" y="688.5" width="7.22" height="7.8" fill="#000000"/>
<rect x="326.74" y="688.5" width="7.22" height="7.8" fill="#000000"/>
<rect x="336.01" y="688.5" width="7.22" height="7.8" fill="#000000"/>
<rect x="345.28" y="688.5" width="7.22" height="7.8" fill="#000000"/>
<rect x="354.55" y="688.5" width="7.22" height="7.8" fill="#000000"/>
<rect x="363.82" y="688.5" width="7.22" height="7.8" fill="#000000"/>
<rect x="373.09" y="688.5" width="7.22" height="7.8" fill="#000000"/>
<rect x="382.36" y="688.5" width="7.22" height="7.8" fill="#000000"/>
<rect x="391.63" y="688.5" width="7.22" height="7.8" fill="#000000"/>
<rect x="400.9" y="688.5" width="7.22" height="7.8" fill="#000000"/>
<rect x="410.17" y="688.5" width="7.22" height="7.8" fill="#000000"/>
<rect x="419.44" y="688.5" width="7.22" height="7.8" fill="#000000"/>
<rect x="428.71" y="688.5" width="7.22" height="7.8" fill="#000000"/>
<rect x="437.98" y="688.5" width="7.22" height="7.8" fill="#000000"/>
<rect x="447.25" y="688.5" width="7.22" height="7.8" fill="#000000"/>
<rect x="456.52" y="688.5" width="7.22" height="7.8" fill="#000000"/>
<rect x="465.79" y="688.5" width="7.22" height="7.8" fill="#000000"/>
<polyline fill="none" stroke="#ff0000" stroke-width="0.7" stroke-opacity="0.8" points="191.3,689.3 200.57,689.25 209.84,689.21 219.11,689.16 228.38,689.11 237.65,689.07 246.92,689.02 256.19,688.97 265.46,688.93 274.73,688.88 284,688.83 293.27,688.79 302.54,688.74 311.81,688.69 321.08,688.65 330.35,688.6 339.62,688.59 348.89,688.57 358.16,688.56 367.43,688.54 376.7,688.53 385.97,688.51 395.24,688.5 404.51,688.44 413.78,688.38 423.05,688.32 432.32,688.26 441.59,688.2 450.86,687.77 460.13,687.33 469.4,686.9"/>
<ellipse cx="191.3" cy="689.3" rx="4.08" ry="4.41" fill="#ff0000"/>
<ellipse cx="200.57" cy="689.25" rx="4.08" ry="4.41" fill="#ff0000"/>
<ellipse cx="209.84" cy="689.21" rx="4.08" ry="4.41" fill="#ff0000"/>
<ellipse cx="219.11" cy="689.16" rx="4.08" ry="4.41" fill="#ff0000"/>
<ellipse cx="228.38" cy="689.11" rx="4.08" ry="4.41" fill="#ff0000"/>
<ellipse cx="237.65" cy="689.07" rx="4.08" ry="4.41" fill="#ff0000"/>
<ellipse cx="246.92" cy="689.02" rx="4.08" ry="4.41" fill="#ff0000"/>
<ellipse cx="256.19" cy="688.97" rx="4.08" ry="4.41" fill="#ff0000"/>
<ellipse cx="265.46" cy="688.93" rx="4.08" ry="4.41" fill="#ff0000"/>
<ellipse cx="274.73" cy="688.88" rx="4.08" ry="4.41" fill="#ff0000"/>
<ellipse cx="284" cy="688.83" rx="4.08" ry="4.41" fill="#ff0000"/>
<ellipse cx="293.27" cy="688.79" rx="4.08" ry="4.41" fill="#ff0000"/>
<ellipse cx="302.54" cy="688.74" rx="4.08" ry="4.41" fill="#ff0000"/>
<ellipse cx="311.81" cy="688.69" rx="4.08" ry="4.41" fill="#ff0000"/>
<ellipse cx="321.08" cy="688.65" rx="4.08" ry="4.41" fill="#ff0000"/>
<ellipse cx="330.35" cy="688.6" rx="4.08" ry="4.41" fill="#ff0000"/>
<ellipse cx="339.62" cy="688.59" rx="4.08" ry="4.41" fill="#ff0000"/>
<ellipse cx="348.89" cy="688.57" rx="4.08" ry="4.41" fill="#ff0000"/>
<ellipse cx="358.16" cy="688.56" rx="4.08" ry="4.41" fill="#ff0000"/>
<ellipse cx="367.43" cy="688.54" rx="4.08" ry="4.41" fill="#ff0000"/>
<ellipse cx="376.7" cy="688.53" rx="4.08" ry="4.41" fill="#ff0000"/>
<ellipse cx="385.97" cy="688.51" rx="4.08" ry="4.41" fill="#ff0000"/>
<ellipse cx="395.24" cy="688.5" rx="4.08" ry="4.41" fill="#ff0000"/>
<ellipse cx="404.51" cy="688.44" rx="4.08" ry="4.41" fill="#ff0000"/>
<ellipse cx="413.78" cy="688.38" rx="4.08" ry="4.41" fill="#ff0000"/>
<ellipse cx="423.05" cy="688.32" rx="4.08" ry="4.41" fill="#ff0000"/>
<ellipse cx="432.32" cy="688.26" rx="4.08" ry="4.41" fill="#ff0000"/>
<ellipse cx="441.59" cy="688.2" rx="4.08" ry="4.41" fill="#ff0000"/>
<ellipse cx="450.86" cy="687.77" rx="4.08" ry="4.41" fill="#ff0000"/>
<ellipse cx="460.13" cy="687.33" rx="4.08" ry="4.41" fill="#ff0000"/>
<ellipse cx="469.4" cy="686.9" rx="4.08" ry="4.41" fill="#ff0000"/>
<polyline fill="none" stroke="#0000ff" stroke-width="0.7" stroke-opacity="0.8" points="191.3,663.6 200.57,663.38 209.84,663.15 219.11,662.93 228.38,662.7 237.65,662.93 246.92,663.15 256.19,663.38 265.46,663.6 274.73,663.97 284,664.33 293.27,664.7 302.54,665 311.81,665.3 321.08,666.2 330.35,666.8 339.62,668 348.89,669.2 358.16,670.2 367.43,671.2 376.7,672.5 385.97,673.6 395.24,675.3 404.51,677.3 413.78,679.1 423.05,681 432.32,683.3 441.59,685.3 450.86,687.8 460.13,690.8 469.4,694.2"/>
<polygon points="191.3,659.33 195.6,667.87 187,667.87" fill="#0000ff"/>
<polygon points="200.57,659.1 204.87,667.65 196.27,667.65" fill="#0000ff"/>
<polygon points="209.84,658.88 214.14,667.42 205.54,667.42" fill="#0000ff"/>
<polygon points="219.11,658.65 223.41,667.2 214.81,667.2" fill="#0000ff"/>
<polygon points="228.38,658.43 232.68,666.97 224.08,666.97" fill="#0000ff"/>
<polygon points="237.65,658.65 241.95,667.2 233.35,667.2" fill="#0000ff"/>
<polygon points="246.92,658.88 251.22,667.42 242.62,667.42" fill="#0000ff"/>
<polygon points="256.19,659.1 260.49,667.65 251.89,667.65" fill="#0000ff"/>
<polygon points="265.46,659.33 269.76,667.87 261.16,667.87" fill="#0000ff"/>
<polygon points="274.73,659.69 279.03,668.24 270.43,668.24" fill="#0000ff"/>
<polygon points="284,660.06 288.3,668.61 279.7,668.61" fill="#0000ff"/>
<polygon points="293.27,660.43 297.57,668.97 288.97,668.97" fill="#0000ff"/>
<polygon points="302.54,660.73 306.84,669.27 298.24,669.27" fill="#0000ff"/>
<polygon points="311.81,661.03 316.11,669.57 307.51,669.57" fill="#0000ff"/>
<polygon points="321.08,661.93 325.38,670.47 316.78,670.47" fill="#0000ff"/>
<polygon points="330.35,662.53 334.65,671.07 326.05,671.07" fill="#0000ff"/>
<polygon points="339.62,663.73 343.92,672.27 335.32,672.27" fill="#0000ff"/>
<polygon points="348.89,664.93 353.19,673.47 344.59,673.47" fill="#0000ff"/>
<polygon points="358.16,665.93 362.46,674.47 353.86,674.47" fill="#0000ff"/>
<polygon points="367.43,666.93 371.73,675.47 363.13,675.47" fill="#0000ff"/>
<polygon points="376.7,668.23 381,676.77 372.4,676.77" fill="#0000ff"/>
<polygon points="385.97,669.33 390.27,677.87 381.67,677.87" fill="#0000ff"/>
<polygon points="395.24,671.03 399.54,679.57 390.94,679.57" fill="#0000ff"/>
<polygon points="404.51,673.03 408.81,681.57 400.21,681.57" fill="#0000ff"/>
<polygon points="413.78,674.83 418.08,683.37 409.48,683.37" fill="#0000ff"/>
<polygon points="423.05,676.73 427.35,685.27 418.75,685.27" fill="#0000ff"/>
<polygon points="432.32,679.03 436.62,687.57 428.02,687.57" fill="#0000ff"/>
<polygon points="441.59,681.03 445.89,689.57 437.29,689.57" fill="#0000ff"/>
<polygon points="450.86,683.53 455.16,692.07 446.56,692.07" fill="#0000ff"/>
<polygon points="460.13,686.53 464.43,695.07 455.83,695.07" fill="#0000ff"/>
<polygon points="469.4,689.93 473.7,698.47 465.1,698.47" fill="#0000ff"/>
<polyline fill="none" stroke="#008080" stroke-width="0.7" stroke-opacity="0.8" points="191.3,630.9 200.57,630.67 209.84,630.43 219.11,630.2 228.38,630.05 237.65,629.9 246.92,630 256.19,630.1 265.46,630.2 274.73,630.53 284,630.87 293.27,631.2 302.54,631.67 311.81,632.13 321.08,632.6 330.35,633.3 339.62,634.24 348.89,635.18 358.16,636.12 367.43,637.06 376.7,638 385.97,639.3 395.24,640.6 404.51,642.1 413.78,643.6 423.05,645.5 432.32,648 441.59,652 450.86,654.4 460.13,657.9 469.4,661.6"/>
<polygon points="191.3,635.17 195.6,626.63 187,626.63" fill="#008080"/>
<polygon points="200.57,634.94 204.87,626.39 196.27,626.39" fill="#008080"/>
<polygon points="209.84,634.71 214.14,626.16 205.54,626.16" fill="#008080"/>
<polygon points="219.11,634.47 223.41,625.93 214.81,625.93" fill="#008080"/>
<polygon points="228.38,634.32 232.68,625.78 224.08,625.78" fill="#008080"/>
<polygon points="237.65,634.17 241.95,625.63 233.35,625.63" fill="#008080"/>
<polygon points="246.92,634.27 251.22,625.73 242.62,625.73" fill="#008080"/>
<polygon points="256.19,634.37 260.49,625.83 251.89,625.83" fill="#008080"/>
<polygon points="265.46,634.47 269.76,625.93 261.16,625.93" fill="#008080"/>
<polygon points="274.73,634.81 279.03,626.26 270.43,626.26" fill="#008080"/>
<polygon points="284,635.14 288.3,626.59 279.7,626.59" fill="#008080"/>
<polygon points="293.27,635.47 297.57,626.93 288.97,626.93" fill="#008080"/>
<polygon points="302.54,635.94 306.84,627.39 298.24,627.39" fill="#008080"/>
<polygon points="311.81,636.41 316.11,627.86 307.51,627.86" fill="#008080"/>
<polygon points="321.08,636.87 325.38,628.33 316.78,628.33" fill="#008080"/>
<polygon points="330.35,637.57 334.65,629.03 326.05,629.03" fill="#008080"/>
<polygon points="339.62,638.51 343.92,629.97 335.32,629.97" fill="#008080"/>
<polygon points="348.89,639.45 353.19,630.91 344.59,630.91" fill="#008080"/>
<polygon points="358.16,640.39 362.46,631.85 353.86,631.85" fill="#008080"/>
<polygon points="367.43,641.33 371.73,632.79 363.13,632.79" fill="#008080"/>
<polygon points="376.7,642.27 381,633.73 372.4,633.73" fill="#008080"/>
<polygon points="385.97,643.57 390.27,635.03 381.67,635.03" fill="#008080"/>
<polygon points="395.24,644.87 399.54,636.33 390.94,636.33" fill="#008080"/>
<polygon points="404.51,646.37 408.81,637.83 400.21,637.83" fill="#008080"/>
<polygon points="413.78,647.87 418.08,639.33 409.48,639.33" fill="#008080"/>
<polygon points="423.05,649.77 427.35,641.23 418.75,641.23" fill="#008080"/>
<polygon points="432.32,652.27 436.62,643.73 428.02,643.73" fill="#008080"/>
<polygon points="441.59,656.27 445.89,647.73 437.29,647.73" fill="#008080"/>
<polygon points="450.86,658.67 455.16,650.13 446.56,650.13" fill="#008080"/>
<polygon points="460.13,662.17 464.43,653.63 455.83,653.63" fill="#008080"/>
<polygon points="469.4,665.87 473.7,657.33 465.1,657.33" fill="#008080"/>
<polyline fill="none" stroke="#ff00ff" stroke-width="0.7" stroke-opacity="0.8" points="191.3,584.2 200.57,584 209.84,583.8 219.11,583.6 228.38,583.4 237.65,583.2 246.92,583.3 256.19,583.4 265.46,583.5 274.73,583.6 284,583.9 293.27,584.2 302.54,584.5 311.81,584.8 321.08,585.1 330.35,585.6 339.62,586.22 348.89,586.84 358.16,587.46 367.43,588.08 376.7,588.7 385.97,589.53 395.24,590.37 404.51,591.2 413.78,592.3 423.05,593.4 432.32,594.85 441.59,596.3 450.86,598.05 460.13,599.8 469.4,601.6"/>
<polygon points="187.34,584.2 195.26,579.56 195.26,588.84" fill="#ff00ff"/>
<polygon points="196.61,584 204.53,579.36 204.53,588.64" fill="#ff00ff"/>
<polygon points="205.88,583.8 213.8,579.16 213.8,588.44" fill="#ff00ff"/>
<polygon points="215.15,583.6 223.07,578.96 223.07,588.24" fill="#ff00ff"/>
<polygon points="224.42,583.4 232.34,578.76 232.34,588.04" fill="#ff00ff"/>
<polygon points="233.69,583.2 241.61,578.56 241.61,587.84" fill="#ff00ff"/>
<polygon points="242.96,583.3 250.88,578.66 250.88,587.94" fill="#ff00ff"/>
<polygon points="252.23,583.4 260.15,578.76 260.15,588.04" fill="#ff00ff"/>
<polygon points="261.5,583.5 269.42,578.86 269.42,588.14" fill="#ff00ff"/>
<polygon points="270.77,583.6 278.69,578.96 278.69,588.24" fill="#ff00ff"/>
<polygon points="280.04,583.9 287.96,579.26 287.96,588.54" fill="#ff00ff"/>
<polygon points="289.31,584.2 297.23,579.56 297.23,588.84" fill="#ff00ff"/>
<polygon points="298.58,584.5 306.5,579.86 306.5,589.14" fill="#ff00ff"/>
<polygon points="307.85,584.8 315.77,580.16 315.77,589.44" fill="#ff00ff"/>
<polygon points="317.12,585.1 325.04,580.46 325.04,589.74" fill="#ff00ff"/>
<polygon points="326.39,585.6 334.31,580.96 334.31,590.24" fill="#ff00ff"/>
<polygon points="335.66,586.22 343.58,581.58 343.58,590.86" fill="#ff00ff"/>
<polygon points="344.93,586.84 352.85,582.2 352.85,591.48" fill="#ff00ff"/>
<polygon points="354.2,587.46 362.12,582.82 362.12,592.1" fill="#ff00ff"/>
<polygon points="363.47,588.08 371.39,583.44 371.39,592.72" fill="#ff00ff"/>
<polygon points="372.74,588.7 380.66,584.06 380.66,593.34" fill="#ff00ff"/>
<polygon points="382.01,589.53 389.93,584.89 389.93,594.18" fill="#ff00ff"/>
<polygon points="391.28,590.37 399.2,585.72 399.2,595.01" fill="#ff00ff"/>
<polygon points="400.55,591.2 408.47,586.56 408.47,595.84" fill="#ff00ff"/>
<polygon points="409.82,592.3 417.74,587.66 417.74,596.94" fill="#ff00ff"/>
<polygon points="419.09,593.4 427.01,588.76 427.01,598.04" fill="#ff00ff"/>
<polygon points="428.36,594.85 436.28,590.21 436.28,599.49" fill="#ff00ff"/>
<polygon points="437.63,596.3 445.55,591.66 445.55,600.94" fill="#ff00ff"/>
<polygon points="446.9,598.05 454.82,593.41 454.82,602.69" fill="#ff00ff"/>
<polygon points="456.17,599.8 464.09,595.16 464.09,604.44" fill="#ff00ff"/>
<polygon points="465.44,601.6 473.36,596.96 473.36,606.24" fill="#ff00ff"/>
<polyline fill="none" stroke="#808000" stroke-width="0.7" stroke-opacity="0.8" points="191.3,545.8 200.57,545.69 209.84,545.57 219.11,545.46 228.38,545.34 237.65,545.23 246.92,545.11 256.19,545 265.46,545.09 274.73,545.17 284,545.26 293.27,545.34 302.54,545.43 311.81,545.51 321.08,545.6 330.35,545.93 339.62,546.27 348.89,546.6 358.16,546.93 367.43,547.27 376.7,547.6 385.97,547.92 395.24,548.24 404.51,548.56 413.78,548.88 423.05,549.2 432.32,549.34 441.59,549.48 450.86,549.62 460.13,549.76 469.4,549.9"/>
<polygon points="195.26,545.8 187.34,541.16 187.34,550.44" fill="#808000"/>
<polygon points="204.53,545.69 196.61,541.04 196.61,550.33" fill="#808000"/>
<polygon points="213.8,545.57 205.88,540.93 205.88,550.22" fill="#808000"/>
<polygon points="223.07,545.46 215.15,540.81 215.15,550.1" fill="#808000"/>
<polygon points="232.34,545.34 224.42,540.7 224.42,549.99" fill="#808000"/>
<polygon points="241.61,545.23 233.69,540.58 233.69,549.87" fill="#808000"/>
<polygon points="250.88,545.11 242.96,540.47 242.96,549.76" fill="#808000"/>
<polygon points="260.15,545 252.23,540.36 252.23,549.64" fill="#808000"/>
<polygon points="269.42,545.09 261.5,540.44 261.5,549.73" fill="#808000"/>
<polygon points="278.69,545.17 270.77,540.53 270.77,549.82" fill="#808000"/>
<polygon points="287.96,545.26 280.04,540.61 280.04,549.9" fill="#808000"/>
<polygon points="297.23,545.34 289.31,540.7 289.31,549.99" fill="#808000"/>
<polygon points="306.5,545.43 298.58,540.78 298.58,550.07" fill="#808000"/>
<polygon points="315.77,545.51 307.85,540.87 307.85,550.16" fill="#808000"/>
<polygon points="325.04,545.6 317.12,540.96 317.12,550.24" fill="#808000"/>
<polygon points="334.31,545.93 326.39,541.29 326.39,550.58" fill="#808000"/>
<polygon points="343.58,546.27 335.66,541.62 335.66,550.91" fill="#808000"/>
<polygon points="352.85,546.6 344.93,541.96 344.93,551.24" fill="#808000"/>
<polygon points="362.12,546.93 354.2,542.29 354.2,551.58" fill="#808000"/>
<polygon points="371.39,547.27 363.47,542.62 363.47,551.91" fill="#808000"/>
<polygon points="380.66,547.6 372.74,542.96 372.74,552.24" fill="#808000"/>
<polygon points="389.93,547.92 382.01,543.28 382.01,552.56" fill="#808000"/>
<polygon points="399.2,548.24 391.28,543.6 391.28,552.88" fill="#808000"/>
<polygon points="408.47,548.56 400.55,543.92 400.55,553.2" fill="#808000"/>
<polygon points="417.74,548.88 409.82,544.24 409.82,553.52" fill="#808000"/>
<polygon points="427.01,549.2 419.09,544.56 419.09,553.84" fill="#808000"/>
<polygon points="436.28,549.34 428.36,544.7 428.36,553.98" fill="#808000"/>
<polygon points="445.55,549.48 437.63,544.84 437.63,554.12" fill="#808000"/>
<polygon points="454.82,549.62 446.9,544.98 446.9,554.26" fill="#808000"/>
<polygon points="464.09,549.76 456.17,545.12 456.17,554.4" fill="#808000"/>
<polygon points="473.36,549.9 465.44,545.26 465.44,554.54" fill="#808000"/>
<polyline fill="none" stroke="#000080" stroke-width="0.7" stroke-opacity="0.8" points="191.3,514.5 200.57,514.51 209.84,514.52 219.11,514.53 228.38,514.54 237.65,514.55 246.92,514.56 256.19,514.57 265.46,514.58 274.73,514.59 284,514.6 293.27,514.61 302.54,514.62 311.81,514.63 321.08,514.64 330.35,514.65 339.62,514.66 348.89,514.67 358.16,514.68 367.43,514.69 376.7,514.7 385.97,514.71 395.24,514.72 404.51,514.73 413.78,514.74 423.05,514.75 432.32,514.76 441.59,514.77 450.86,514.78 460.13,514.79 469.4,514.8"/>
<polygon points="191.3,509.62 195.6,514.5 191.3,519.38 187,514.5" fill="#000080"/>
<polygon points="200.57,509.63 204.87,514.51 200.57,519.39 196.27,514.51" fill="#000080"/>
<polygon points="209.84,509.64 214.14,514.52 209.84,519.4 205.54,514.52" fill="#000080"/>
<polygon points="219.11,509.65 223.41,514.53 219.11,519.41 214.81,514.53" fill="#000080"/>
<polygon points="228.38,509.66 232.68,514.54 228.38,519.42 224.08,514.54" fill="#000080"/>
<polygon points="237.65,509.67 241.95,514.55 237.65,519.43 233.35,514.55" fill="#000080"/>
<polygon points="246.92,509.68 251.22,514.56 246.92,519.44 242.62,514.56" fill="#000080"/>
<polygon points="256.19,509.69 260.49,514.57 256.19,519.45 251.89,514.57" fill="#000080"/>
<polygon points="265.46,509.7 269.76,514.58 265.46,519.46 261.16,514.58" fill="#000080"/>
<polygon points="274.73,509.71 279.03,514.59 274.73,519.47 270.43,514.59" fill="#000080"/>
<polygon points="284,509.72 288.3,514.6 284,519.48 279.7,514.6" fill="#000080"/>
<polygon points="293.27,509.73 297.57,514.61 293.27,519.49 288.97,514.61" fill="#000080"/>
<polygon points="302.54,509.74 306.84,514.62 302.54,519.5 298.24,514.62" fill="#000080"/>
<polygon points="311.81,509.75 316.11,514.63 311.81,519.51 307.51,514.63" fill="#000080"/>
<polygon points="321.08,509.76 325.38,514.64 321.08,519.52 316.78,514.64" fill="#000080"/>
<polygon points="330.35,509.77 334.65,514.65 330.35,519.53 326.05,514.65" fill="#000080"/>
<polygon points="339.62,509.78 343.92,514.66 339.62,519.54 335.32,514.66" fill="#000080"/>
<polygon points="348.89,509.79 353.19,514.67 348.89,519.55 344.59,514.67" fill="#000080"/>
<polygon points="358.16,509.8 362.46,514.68 358.16,519.56 353.86,514.68" fill="#000080"/>
<polygon points="367.43,509.81 371.73,514.69 367.43,519.57 363.13,514.69" fill="#000080"/>
<polygon points="376.7,509.82 381,514.7 376.7,519.58 372.4,514.7" fill="#000080"/>
<polygon points="385.97,509.83 390.27,514.71 385.97,519.59 381.67,514.71" fill="#000080"/>
<polygon points="395.24,509.84 399.54,514.72 395.24,519.6 390.94,514.72" fill="#000080"/>
<polygon points="404.51,509.85 408.81,514.73 404.51,519.61 400.21,514.73" fill="#000080"/>
<polygon points="413.78,509.86 418.08,514.74 413.78,519.62 409.48,514.74" fill="#000080"/>
<polygon points="423.05,509.87 427.35,514.75 423.05,519.63 418.75,514.75" fill="#000080"/>
<polygon points="432.32,509.88 436.62,514.76 432.32,519.64 428.02,514.76" fill="#000080"/>
<polygon points="441.59,509.89 445.89,514.77 441.59,519.65 437.29,514.77" fill="#000080"/>
<polygon points="450.86,509.9 455.16,514.78 450.86,519.66 446.56,514.78" fill="#000080"/>
<polygon points="460.13,509.91 464.43,514.79 460.13,519.67 455.83,514.79" fill="#000080"/>
<polygon points="469.4,509.92 473.7,514.8 469.4,519.68 465.1,514.8" fill="#000080"/>
<polyline fill="none" stroke="#800000" stroke-width="0.7" stroke-opacity="0.8" points="191.3,468.6 200.57,468.34 209.84,468.08 219.11,467.82 228.38,467.56 237.65,467.3 246.92,467.06 256.19,466.82 265.46,466.58 274.73,466.34 284,466.1 293.27,466.22 302.54,466.34 311.81,466.46 321.08,466.58 330.35,466.7 339.62,467.06 348.89,467.42 358.16,467.78 367.43,468.14 376.7,468.5 385.97,468.82 395.24,469.14 404.51,469.46 413.78,469.78 423.05,470.1 432.32,470.3 441.59,470.18 450.86,470.05 460.13,469.93 469.4,469.8"/>
<polygon points="191.3,464.25 195.55,467.59 193.93,472.99 188.67,472.99 187.05,467.59" fill="#800000"/>
<polygon points="200.57,463.99 204.82,467.33 203.2,472.73 197.94,472.73 196.32,467.33" fill="#800000"/>
<polygon points="209.84,463.73 214.09,467.07 212.47,472.47 207.21,472.47 205.59,467.07" fill="#800000"/>
<polygon points="219.11,463.47 223.36,466.81 221.74,472.21 216.48,472.21 214.86,466.81" fill="#800000"/>
<polygon points="228.38,463.21 232.63,466.55 231.01,471.95 225.75,471.95 224.13,466.55" fill="#800000"/>
<polygon points="237.65,462.95 241.9,466.29 240.28,471.69 235.02,471.69 233.4,466.29" fill="#800000"/>
<polygon points="246.92,462.71 251.17,466.05 249.55,471.45 244.29,471.45 242.67,466.05" fill="#800000"/>
<polygon points="256.19,462.47 260.44,465.81 258.82,471.21 253.56,471.21 251.94,465.81" fill="#800000"/>
<polygon points="265.46,462.23 269.71,465.57 268.09,470.97 262.83,470.97 261.21,465.57" fill="#800000"/>
<polygon points="274.73,461.99 278.98,465.33 277.36,470.73 272.1,470.73 270.48,465.33" fill="#800000"/>
<polygon points="284,461.75 288.25,465.09 286.63,470.49 281.37,470.49 279.75,465.09" fill="#800000"/>
<polygon points="293.27,461.87 297.52,465.21 295.9,470.61 290.64,470.61 289.02,465.21" fill="#800000"/>
<polygon points="302.54,461.99 306.79,465.33 305.17,470.73 299.91,470.73 298.29,465.33" fill="#800000"/>
<polygon points="311.81,462.11 316.06,465.45 314.44,470.85 309.18,470.85 307.56,465.45" fill="#800000"/>
<polygon points="321.08,462.23 325.33,465.57 323.71,470.97 318.45,470.97 316.83,465.57" fill="#800000"/>
<polygon points="330.35,462.35 334.6,465.69 332.98,471.09 327.72,471.09 326.1,465.69" fill="#800000"/>
<polygon points="339.62,462.71 343.87,466.05 342.25,471.45 336.99,471.45 335.37,466.05" fill="#800000"/>
<polygon points="348.89,463.07 353.14,466.41 351.52,471.81 346.26,471.81 344.64,466.41" fill="#800000"/>
<polygon points="358.16,463.43 362.41,466.77 360.79,472.17 355.53,472.17 353.91,466.77" fill="#800000"/>
<polygon points="367.43,463.79 371.68,467.13 370.06,472.53 364.8,472.53 363.18,467.13" fill="#800000"/>
<polygon points="376.7,464.15 380.95,467.49 379.33,472.89 374.07,472.89 372.45,467.49" fill="#800000"/>
<polygon points="385.97,464.47 390.22,467.81 388.6,473.21 383.34,473.21 381.72,467.81" fill="#800000"/>
<polygon points="395.24,464.79 399.49,468.13 397.87,473.53 392.61,473.53 390.99,468.13" fill="#800000"/>
<polygon points="404.51,465.11 408.76,468.45 407.14,473.85 401.88,473.85 400.26,468.45" fill="#800000"/>
<polygon points="413.78,465.43 418.03,468.77 416.41,474.17 411.15,474.17 409.53,468.77" fill="#800000"/>
<polygon points="423.05,465.75 427.3,469.09 425.68,474.49 420.42,474.49 418.8,469.09" fill="#800000"/>
<polygon points="432.32,465.95 436.57,469.29 434.95,474.69 429.69,474.69 428.07,469.29" fill="#800000"/>
<polygon points="441.59,465.83 445.84,469.17 444.22,474.57 438.96,474.57 437.34,469.17" fill="#800000"/>
<polygon points="450.86,465.7 455.11,469.04 453.49,474.44 448.23,474.44 446.61,469.04" fill="#800000"/>
<polygon points="460.13,465.58 464.38,468.92 462.76,474.32 457.5,474.32 455.88,468.92" fill="#800000"/>
<polygon points="469.4,465.45 473.65,468.79 472.03,474.19 466.77,474.19 465.15,468.79" fill="#800000"/>
<polyline fill="none" stroke="#ff0080" stroke-width="0.7" stroke-opacity="0.8" points="191.3,434 200.57,434.02 209.84,434.04 219.11,434.07 228.38,434.09 237.65,434.11 246.92,434.13 256.19,434.16 265.46,434.18 274.73,434.2 284,434.22 293.27,434.24 302.54,434.27 311.81,434.29 321.08,434.31 330.35,434.33 339.62,434.36 348.89,434.38 358.16,434.4 367.43,434.65 376.7,434.9 385.97,435.15 395.24,435.4 404.51,435.7 413.78,436 423.05,436.3 432.32,436.42 441.59,436.54 450.86,436.66 460.13,436.78 469.4,436.9"/>
<polygon points="191.3,429.26 194.98,431.63 194.98,436.37 191.3,438.74 187.62,436.37 187.62,431.63" fill="#ff0080"/>
<polygon points="200.57,429.29 204.25,431.65 204.25,436.39 200.57,438.76 196.89,436.39 196.89,431.65" fill="#ff0080"/>
<polygon points="209.84,429.31 213.52,431.68 213.52,436.41 209.84,438.78 206.16,436.41 206.16,431.68" fill="#ff0080"/>
<polygon points="219.11,429.33 222.79,431.7 222.79,436.44 219.11,438.8 215.43,436.44 215.43,431.7" fill="#ff0080"/>
<polygon points="228.38,429.35 232.06,431.72 232.06,436.46 228.38,438.83 224.7,436.46 224.7,431.72" fill="#ff0080"/>
<polygon points="237.65,429.37 241.33,431.74 241.33,436.48 237.65,438.85 233.97,436.48 233.97,431.74" fill="#ff0080"/>
<polygon points="246.92,429.4 250.6,431.76 250.6,436.5 246.92,438.87 243.24,436.5 243.24,431.76" fill="#ff0080"/>
<polygon points="256.19,429.42 259.87,431.79 259.87,436.52 256.19,438.89 252.51,436.52 252.51,431.79" fill="#ff0080"/>
<polygon points="265.46,429.44 269.14,431.81 269.14,436.55 265.46,438.91 261.78,436.55 261.78,431.81" fill="#ff0080"/>
<polygon points="274.73,429.46 278.41,431.83 278.41,436.57 274.73,438.94 271.05,436.57 271.05,431.83" fill="#ff0080"/>
<polygon points="284,429.49 287.68,431.85 287.68,436.59 284,438.96 280.32,436.59 280.32,431.85" fill="#ff0080"/>
<polygon points="293.27,429.51 296.95,431.88 296.95,436.61 293.27,438.98 289.59,436.61 289.59,431.88" fill="#ff0080"/>
<polygon points="302.54,429.53 306.22,431.9 306.22,436.64 302.54,439 298.86,436.64 298.86,431.9" fill="#ff0080"/>
<polygon points="311.81,429.55 315.49,431.92 315.49,436.66 311.81,439.03 308.13,436.66 308.13,431.92" fill="#ff0080"/>
<polygon points="321.08,429.57 324.76,431.94 324.76,436.68 321.08,439.05 317.4,436.68 317.4,431.94" fill="#ff0080"/>
<polygon points="330.35,429.6 334.03,431.96 334.03,436.7 330.35,439.07 326.67,436.7 326.67,431.96" fill="#ff0080"/>
<polygon points="339.62,429.62 343.3,431.99 343.3,436.72 339.62,439.09 335.94,436.72 335.94,431.99" fill="#ff0080"/>
<polygon points="348.89,429.64 352.57,432.01 352.57,436.75 348.89,439.11 345.21,436.75 345.21,432.01" fill="#ff0080"/>
<polygon points="358.16,429.66 361.84,432.03 361.84,436.77 358.16,439.14 354.48,436.77 354.48,432.03" fill="#ff0080"/>
<polygon points="367.43,429.91 371.11,432.28 371.11,437.02 367.43,439.39 363.75,437.02 363.75,432.28" fill="#ff0080"/>
<polygon points="376.7,430.16 380.38,432.53 380.38,437.27 376.7,439.64 373.02,437.27 373.02,432.53" fill="#ff0080"/>
<polygon points="385.97,430.41 389.65,432.78 389.65,437.52 385.97,439.89 382.29,437.52 382.29,432.78" fill="#ff0080"/>
<polygon points="395.24,430.66 398.92,433.03 398.92,437.77 395.24,440.14 391.56,437.77 391.56,433.03" fill="#ff0080"/>
<polygon points="404.51,430.96 408.19,433.33 408.19,438.07 404.51,440.44 400.83,438.07 400.83,433.33" fill="#ff0080"/>
<polygon points="413.78,431.26 417.46,433.63 417.46,438.37 413.78,440.74 410.1,438.37 410.1,433.63" fill="#ff0080"/>
<polygon points="423.05,431.56 426.73,433.93 426.73,438.67 423.05,441.04 419.37,438.67 419.37,433.93" fill="#ff0080"/>
<polygon points="432.32,431.68 436,434.05 436,438.79 432.32,441.16 428.64,438.79 428.64,434.05" fill="#ff0080"/>
<polygon points="441.59,431.8 445.27,434.17 445.27,438.91 441.59,441.28 437.91,438.91 437.91,434.17" fill="#ff0080"/>
<polygon points="450.86,431.92 454.54,434.29 454.54,439.03 450.86,441.4 447.18,439.03 447.18,434.29" fill="#ff0080"/>
<polygon points="460.13,432.04 463.81,434.41 463.81,439.15 460.13,441.52 456.45,439.15 456.45,434.41" fill="#ff0080"/>
<polygon points="469.4,432.16 473.08,434.53 473.08,439.27 469.4,441.64 465.72,439.27 465.72,434.53" fill="#ff0080"/>
<path d="M154.2 398.4 V728.5 H507" fill="none" stroke="#333333" stroke-width="1.3"/>
<path d="M148.4 398.38H154.2M151 416.72H154.2M148.4 435.06H154.2M151 453.4H154.2M148.4 471.74H154.2M151 490.08H154.2M148.4 508.42H154.2M151 526.76H154.2M148.4 545.1H154.2M151 563.44H154.2M148.4 581.78H154.2M151 600.12H154.2M148.4 618.46H154.2M151 636.8H154.2M148.4 655.14H154.2M151 673.48H154.2M148.4 691.82H154.2M151 710.16H154.2M148.4 728.5H154.2M154.22 728.5V734.3M172.76 728.5V731.7M191.3 728.5V734.3M209.84 728.5V731.7M228.38 728.5V734.3M246.92 728.5V731.7M265.46 728.5V734.3M284 728.5V731.7M302.54 728.5V734.3M321.08 728.5V731.7M339.62 728.5V734.3M358.16 728.5V731.7M376.7 728.5V734.3M395.24 728.5V731.7M413.78 728.5V734.3M432.32 728.5V731.7M450.86 728.5V734.3M469.4 728.5V731.7M487.94 728.5V734.3M506.48 728.5V731.7" stroke="#333333" stroke-width="1.2"/>
<g font-family="Liberation Sans" font-size="10.8" fill="#222">
<text text-anchor="end" transform="translate(144.2 401.78) scale(1 1.25)">0.50</text>
<text text-anchor="end" transform="translate(144.2 438.46) scale(1 1.25)">0.45</text>
<text text-anchor="end" transform="translate(144.2 475.14) scale(1 1.25)">0.40</text>
<text text-anchor="end" transform="translate(144.2 511.82) scale(1 1.25)">0.35</text>
<text text-anchor="end" transform="translate(144.2 548.5) scale(1 1.25)">0.30</text>
<text text-anchor="end" transform="translate(144.2 585.18) scale(1 1.25)">0.25</text>
<text text-anchor="end" transform="translate(144.2 621.86) scale(1 1.25)">0.20</text>
<text text-anchor="end" transform="translate(144.2 658.54) scale(1 1.25)">0.15</text>
<text text-anchor="end" transform="translate(144.2 695.22) scale(1 1.25)">0.10</text>
<text text-anchor="end" transform="translate(144.2 731.9) scale(1 1.25)">0.05</text>
<text text-anchor="middle" transform="translate(154.22 750.6) scale(1 1.25)">-20</text>
<text text-anchor="middle" transform="translate(191.3 750.6) scale(1 1.25)">0</text>
<text text-anchor="middle" transform="translate(228.38 750.6) scale(1 1.25)">20</text>
<text text-anchor="middle" transform="translate(265.46 750.6) scale(1 1.25)">40</text>
<text text-anchor="middle" transform="translate(302.54 750.6) scale(1 1.25)">60</text>
<text text-anchor="middle" transform="translate(339.62 750.6) scale(1 1.25)">80</text>
<text text-anchor="middle" transform="translate(376.7 750.6) scale(1 1.25)">100</text>
<text text-anchor="middle" transform="translate(413.78 750.6) scale(1 1.25)">120</text>
<text text-anchor="middle" transform="translate(450.86 750.6) scale(1 1.25)">140</text>
<text text-anchor="middle" transform="translate(487.94 750.6) scale(1 1.25)">160</text>
</g>
<text text-anchor="middle" transform="translate(330 775.1) scale(1 1.06)" font-family="Liberation Sans" font-size="13.6" fill="#222">Wind velocity (m/s)</text>
<text text-anchor="middle" transform="translate(112.4 573) rotate(-90) scale(1.29 1)" font-family="Liberation Sans" font-size="12.2" fill="#222">Imaginary part</text>
<rect x="486.1" y="410.3" width="91.3" height="176.5" fill="#fff" stroke="#777" stroke-width="1"/>
<line x1="488" y1="422.5" x2="518.4" y2="422.5" stroke="#000000" stroke-width="1" stroke-opacity="0.6"/>
<rect x="499.59" y="418.23" width="7.22" height="7.95" fill="#000000"/>
<text text-anchor="start" transform="translate(522.9 427.1) scale(1 1.2)" font-family="Liberation Sans" font-size="13.2" fill="#222">Mode 1</text>
<line x1="488" y1="441.5" x2="518.4" y2="441.5" stroke="#ff0000" stroke-width="1" stroke-opacity="0.6"/>
<ellipse cx="503.2" cy="441.6" rx="4.08" ry="4.49" fill="#ff0000"/>
<text text-anchor="start" transform="translate(522.9 446.5) scale(1 1.2)" font-family="Liberation Sans" font-size="13.2" fill="#222">Mode 2</text>
<line x1="488" y1="461.5" x2="518.4" y2="461.5" stroke="#0000ff" stroke-width="1" stroke-opacity="0.6"/>
<polygon points="503.2,456.65 507.5,465.35 498.9,465.35" fill="#0000ff"/>
<text text-anchor="start" transform="translate(522.9 465.9) scale(1 1.2)" font-family="Liberation Sans" font-size="13.2" fill="#222">Mode 3</text>
<line x1="488" y1="480.5" x2="518.4" y2="480.5" stroke="#008080" stroke-width="1" stroke-opacity="0.6"/>
<polygon points="503.2,484.75 507.5,476.05 498.9,476.05" fill="#008080"/>
<text text-anchor="start" transform="translate(522.9 485.3) scale(1 1.2)" font-family="Liberation Sans" font-size="13.2" fill="#222">Mode 4</text>
<line x1="488" y1="499.5" x2="518.4" y2="499.5" stroke="#ff00ff" stroke-width="1" stroke-opacity="0.6"/>
<polygon points="499.24,499.8 507.16,495.07 507.16,504.53" fill="#ff00ff"/>
<text text-anchor="start" transform="translate(522.9 504.7) scale(1 1.2)" font-family="Liberation Sans" font-size="13.2" fill="#222">Mode 5</text>
<line x1="488" y1="519.5" x2="518.4" y2="519.5" stroke="#808000" stroke-width="1" stroke-opacity="0.6"/>
<polygon points="507.16,519.2 499.24,514.47 499.24,523.93" fill="#808000"/>
<text text-anchor="start" transform="translate(522.9 524.1) scale(1 1.2)" font-family="Liberation Sans" font-size="13.2" fill="#222">Mode 9</text>
<line x1="488" y1="538.5" x2="518.4" y2="538.5" stroke="#000080" stroke-width="1" stroke-opacity="0.6"/>
<polygon points="503.2,533.63 507.5,538.6 503.2,543.57 498.9,538.6" fill="#000080"/>
<text text-anchor="start" transform="translate(522.9 543.5) scale(1 1.2)" font-family="Liberation Sans" font-size="13.2" fill="#222">Mode 11</text>
<line x1="488" y1="558.5" x2="518.4" y2="558.5" stroke="#800000" stroke-width="1" stroke-opacity="0.6"/>
<polygon points="503.2,553.57 507.45,556.97 505.83,562.47 500.57,562.47 498.95,556.97" fill="#800000"/>
<text text-anchor="start" transform="translate(522.9 562.9) scale(1 1.2)" font-family="Liberation Sans" font-size="13.2" fill="#222">Mode 14</text>
<line x1="488" y1="577.5" x2="518.4" y2="577.5" stroke="#ff0080" stroke-width="1" stroke-opacity="0.6"/>
<polygon points="503.2,572.58 506.88,574.99 506.88,579.81 503.2,582.22 499.52,579.81 499.52,574.99" fill="#ff0080"/>
<text text-anchor="start" transform="translate(522.9 582.3) scale(1 1.2)" font-family="Liberation Sans" font-size="13.2" fill="#222">Mode 16</text>
</g>
<text x="342.8" y="805.9" text-anchor="middle" font-family="Liberation Serif" font-size="16" fill="#111">(b)</text>
</svg>
</body></html>
